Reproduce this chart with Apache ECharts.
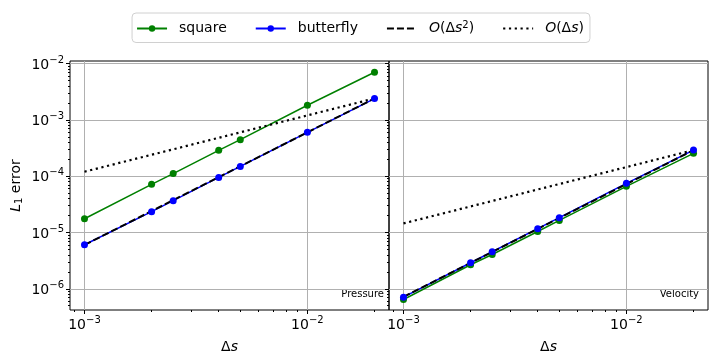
<!DOCTYPE html>
<html>
<head>
<meta charset="utf-8">
<script src="https://cdn.jsdelivr.net/npm/echarts@6/dist/echarts.min.js"></script>
<style>
    html, body { margin: 0; padding: 0; background: #fff; }
    #chart { width: 720px; height: 360px; }
</style>
</head>
<body>
<div id="chart"></div>
<script>
// grid sizes (delta s)
var ds = [0.001, 0.002, 0.0025, 0.004, 0.005, 0.01, 0.02];

// L1 error, pressure panel
var pressureSquare = [1.75e-5, 7.15e-5, 1.11e-4, 2.88e-4, 4.45e-4, 1.82e-3, 7.0e-3];
var pressureButterfly = [6.05e-6, 2.34e-5, 3.67e-5, 9.5e-5, 1.49e-4, 6.0e-4, 2.39e-3];

// L1 error, velocity panel
var velocitySquare = [6.45e-7, 2.67e-6, 4.07e-6, 1.04e-5, 1.64e-5, 6.6e-5, 2.54e-4];
var velocityButterfly = [7.1e-7, 2.9e-6, 4.55e-6, 1.17e-5, 1.83e-5, 7.45e-5, 2.91e-4];

// reference slopes, end points only
var refDs = [0.001, 0.02];
var pressureOrder2 = [6.0e-6, 2.4e-3];
var pressureOrder1 = [1.2e-4, 2.4e-3];
var velocityOrder2 = [7.2e-7, 2.9e-4];
var velocityOrder1 = [1.45e-5, 2.9e-4];

// tick labels
var xTicks = [0.001, 0.01];
var yTicks = [1e-6, 1e-5, 1e-4, 1e-3, 1e-2];

var xMin = 8.61e-4, xMax = 0.02323;
var yMin = 4.2e-7, yMax = 0.0111;

var FONT = 'DejaVu Sans';
var GRID_COLOR = '#b0b0b0';

// minor ticks at 2..9 x 10^k
function minorTicks(lo, hi) {
    var out = [];
    for (var k = Math.floor(Math.log10(lo)); k <= Math.ceil(Math.log10(hi)); k++) {
        for (var m = 2; m <= 9; m++) {
            var v = m * Math.pow(10, k);
            if (v >= lo && v <= hi) out.push(v);
        }
    }
    return out;
}

function pair(xs, ys) {
    return xs.map(function(x, i) { return [x, ys[i]]; });
}

function powLabel(v) {
    var e = Math.round(Math.log10(v));
    return '{b|10}{sup|' + String(e).replace('-', '\u2212') + '}';
}

var powRich = {
    b: { fontSize: 14, fontFamily: FONT, color: '#000', verticalAlign: 'bottom' },
    sup: { fontSize: 10, fontFamily: FONT, color: '#000', verticalAlign: 'bottom', padding: [0, 0, 7, 0] }
};

function makeX(gi) {
    return [{
        type: 'log', gridIndex: gi, min: xMin, max: xMax, logBase: 10,
        axisLine: { show: false },
        axisTick: { show: true, length: 4, customValues: xTicks, lineStyle: { color: '#000' } },
        axisLabel: { customValues: xTicks, formatter: powLabel, rich: powRich, margin: 5 },
        splitLine: { show: true, lineStyle: { color: GRID_COLOR, width: 1 } },
        name: '{i|\u0394}{i2|s}', nameLocation: 'middle', nameGap: 30,
        nameTextStyle: {
            rich: {
                i: { fontSize: 14, fontFamily: FONT, color: '#000' },
                i2: { fontSize: 14, fontFamily: FONT, color: '#000', fontStyle: 'italic' }
            }
        }
    }, {
        type: 'log', gridIndex: gi, min: xMin, max: xMax, logBase: 10, position: 'bottom',
        axisLine: { show: false },
        axisTick: { show: true, length: 2, customValues: minorTicks(xMin, xMax), lineStyle: { color: '#000' } },
        axisLabel: { show: false },
        splitLine: { show: false }
    }];
}

function makeY(gi, labels) {
    var main = {
        type: 'log', gridIndex: gi, min: yMin, max: yMax, logBase: 10,
        axisLine: { show: false },
        axisTick: { show: true, length: 4, customValues: yTicks, lineStyle: { color: '#000' } },
        axisLabel: { show: labels, customValues: yTicks, formatter: powLabel, rich: powRich, margin: 6 },
        splitLine: { show: true, lineStyle: { color: GRID_COLOR, width: 1 } }
    };
    if (labels) {
        main.name = '{it|L}{sub|1} error';
        main.nameLocation = 'middle';
        main.nameRotate = 90;
        main.nameGap = 46;
        main.nameTextStyle = {
            rich: {
                it: { fontSize: 14, fontFamily: FONT, color: '#000', fontStyle: 'italic' },
                sub: { fontSize: 10, fontFamily: FONT, color: '#000', verticalAlign: 'top', padding: [6, 0, 0, 0] }
            },
            fontSize: 14, fontFamily: FONT, color: '#000'
        };
    }
    return [main, {
        type: 'log', gridIndex: gi, min: yMin, max: yMax, logBase: 10, position: 'left',
        axisLine: { show: false },
        axisTick: { show: true, length: 2, customValues: minorTicks(yMin, yMax), lineStyle: { color: '#000' } },
        axisLabel: { show: false },
        splitLine: { show: false }
    }];
}

function dotSeries(name, color, gi, data) {
    return {
        name: name, type: 'line', xAxisIndex: gi * 2, yAxisIndex: gi * 2,
        data: data, symbol: 'circle', symbolSize: 7, showSymbol: true,
        itemStyle: { color: color }, lineStyle: { color: color, width: 1.5 },
        emphasis: { disabled: true }
    };
}

function refSeries(name, type, gi, data) {
    return {
        name: name, type: 'line', xAxisIndex: gi * 2, yAxisIndex: gi * 2,
        data: data, symbol: 'none',
        itemStyle: { color: '#000' },
        lineStyle: { color: '#000', width: type === 'dashed' ? 2 : 2.2, type: type === 'dashed' ? [7, 3] : [2.2, 3.6] },
        emphasis: { disabled: true }
    };
}

var legendText = {
    square: 'square',
    butterfly: 'butterfly',
    order2: '{it|O}(\u0394{it|s}{sup|2})',
    order1: '{it|O}(\u0394{it|s})'
};

var chart = echarts.init(document.getElementById('chart'));
chart.setOption({
    animation: false,
    textStyle: { fontFamily: FONT },
    legend: {
        top: 13, left: 'center',
        data: [
            'square',
            'butterfly',
            { name: 'order2', itemStyle: { opacity: 0 } },
            { name: 'order1', itemStyle: { opacity: 0 } }
        ],
        itemWidth: 30, itemHeight: 8, itemGap: 28,
        borderColor: '#d0d0d0', borderWidth: 1, borderRadius: 4,
        padding: [7, 6, 7, 4],
        formatter: function(n) { return legendText[n]; },
        textStyle: {
            fontSize: 14, fontFamily: FONT, color: '#000', padding: [0, 0, 0, 7],
            rich: {
                it: { fontSize: 14, fontFamily: FONT, color: '#000', fontStyle: 'italic' },
                sup: { fontSize: 10, fontFamily: FONT, color: '#000', verticalAlign: 'bottom', padding: [0, 0, 7, 0] }
            }
        }
    },
    grid: [
        { left: 70, top: 61, width: 319, height: 249, show: true, borderColor: '#000', borderWidth: 1, backgroundColor: 'transparent' },
        { left: 389, top: 61, width: 319, height: 249, show: true, borderColor: '#000', borderWidth: 1, backgroundColor: 'transparent' }
    ],
    xAxis: makeX(0).concat(makeX(1)),
    yAxis: makeY(0, true).concat(makeY(1, false)),
    series: [
        dotSeries('square', '#008000', 0, pair(ds, pressureSquare)),
        dotSeries('butterfly', '#0000ff', 0, pair(ds, pressureButterfly)),
        refSeries('order2', 'dashed', 0, pair(refDs, pressureOrder2)),
        refSeries('order1', 'dotted', 0, pair(refDs, pressureOrder1)),
        dotSeries('square', '#008000', 1, pair(ds, velocitySquare)),
        dotSeries('butterfly', '#0000ff', 1, pair(ds, velocityButterfly)),
        refSeries('order2', 'dashed', 1, pair(refDs, velocityOrder2)),
        refSeries('order1', 'dotted', 1, pair(refDs, velocityOrder1))
    ],
    graphic: [
        { type: 'text', right: 720 - 384, top: 289, style: { text: 'Pressure', fontSize: 10, fontFamily: FONT, fill: '#000' } },
        { type: 'text', right: 720 - 699, top: 289, style: { text: 'Velocity', fontSize: 10, fontFamily: FONT, fill: '#000' } }
    ]
});
</script>
</body>
</html>
